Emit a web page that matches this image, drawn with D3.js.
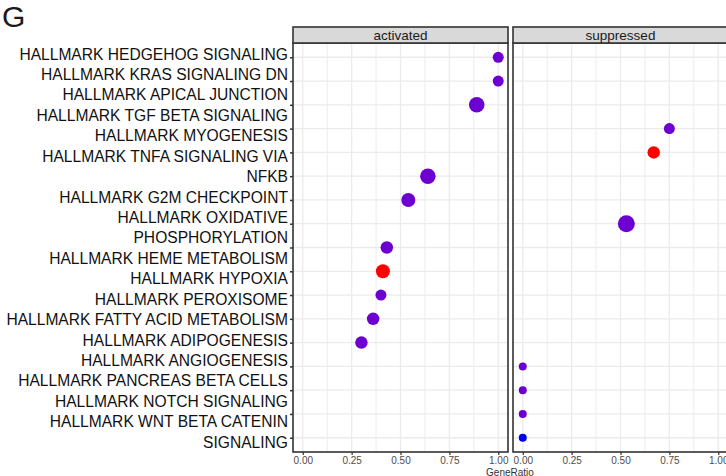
<!DOCTYPE html>
<html>
<head>
<meta charset="utf-8">
<script src="https://cdn.jsdelivr.net/npm/d3@7"></script>
<style>
  html, body { margin: 0; padding: 0; background: #ffffff; }
  svg { display: block; font-family: "Liberation Sans", Arial, sans-serif; }
</style>
</head>
<body>
<div id="chart"></div>
<script>
// ---------------- data ----------------
const categories = [
  "HALLMARK_HEDGEHOG_SIGNALING",
  "HALLMARK_KRAS_SIGNALING_DN",
  "HALLMARK_APICAL_JUNCTION",
  "HALLMARK_TGF_BETA_SIGNALING",
  "HALLMARK_MYOGENESIS",
  "HALLMARK_TNFA_SIGNALING_VIA_NFKB",
  "HALLMARK_G2M_CHECKPOINT",
  "HALLMARK_OXIDATIVE_PHOSPHORYLATION",
  "HALLMARK_HEME_METABOLISM",
  "HALLMARK_HYPOXIA",
  "HALLMARK_PEROXISOME",
  "HALLMARK_FATTY_ACID_METABOLISM",
  "HALLMARK_ADIPOGENESIS",
  "HALLMARK_ANGIOGENESIS",
  "HALLMARK_PANCREAS_BETA_CELLS",
  "HALLMARK_NOTCH_SIGNALING",
  "HALLMARK_WNT_BETA_CATENIN_SIGNALING"
];

// label lines as printed (wrapped) on the left side
const labelLines = [
  "HALLMARK HEDGEHOG SIGNALING",
  "HALLMARK KRAS SIGNALING DN",
  "HALLMARK APICAL JUNCTION",
  "HALLMARK TGF BETA SIGNALING",
  "HALLMARK MYOGENESIS",
  "HALLMARK TNFA SIGNALING VIA",
  "NFKB",
  "HALLMARK G2M CHECKPOINT",
  "HALLMARK OXIDATIVE",
  "PHOSPHORYLATION",
  "HALLMARK HEME METABOLISM",
  "HALLMARK HYPOXIA",
  "HALLMARK PEROXISOME",
  "HALLMARK FATTY ACID METABOLISM",
  "HALLMARK ADIPOGENESIS",
  "HALLMARK ANGIOGENESIS",
  "HALLMARK PANCREAS BETA CELLS",
  "HALLMARK NOTCH SIGNALING",
  "HALLMARK WNT BETA CATENIN",
  "SIGNALING"
];

const panels = ["activated", "suppressed"];
const xTicks = [0, 0.25, 0.5, 0.75, 1];
const xTickLabels = ["0.00", "0.25", "0.50", "0.75", "1.00"];

// activated panel
const activatedTerms = [
  "HALLMARK_HEDGEHOG_SIGNALING", "HALLMARK_KRAS_SIGNALING_DN", "HALLMARK_APICAL_JUNCTION",
  "HALLMARK_TNFA_SIGNALING_VIA_NFKB", "HALLMARK_G2M_CHECKPOINT", "HALLMARK_HEME_METABOLISM",
  "HALLMARK_HYPOXIA", "HALLMARK_PEROXISOME", "HALLMARK_FATTY_ACID_METABOLISM", "HALLMARK_ADIPOGENESIS"
];
const activatedRatio = [1.00, 1.00, 0.89, 0.64, 0.54, 0.43, 0.41, 0.40, 0.36, 0.30];
const activatedCount = [3, 3, 6, 6, 5, 4, 5, 3, 4, 4];
const activatedPadj  = [0.043, 0.043, 0.043, 0.043, 0.043, 0.043, 0.001, 0.043, 0.043, 0.043];

// suppressed panel
const suppressedTerms = [
  "HALLMARK_TGF_BETA_SIGNALING", "HALLMARK_MYOGENESIS", "HALLMARK_OXIDATIVE_PHOSPHORYLATION",
  "HALLMARK_ANGIOGENESIS", "HALLMARK_PANCREAS_BETA_CELLS", "HALLMARK_NOTCH_SIGNALING",
  "HALLMARK_WNT_BETA_CATENIN_SIGNALING"
];
const suppressedRatio = [0.75, 0.67, 0.53, 0.00, 0.00, 0.00, 0.00];
const suppressedCount = [3, 4, 7, 1, 1, 1, 1];
const suppressedPadj  = [0.043, 0.001, 0.043, 0.043, 0.043, 0.043, 0.050];

// ---------------- layout ----------------
const W = 726, H = 476;
const panelTop = 43, panelBottom = 452;
const stripTop = 27;
const panelX = { activated: [293, 508], suppressed: [513, 728] };

const svg = d3.select("#chart").append("svg")
  .attr("width", W).attr("height", H);

const y = d3.scalePoint().domain(categories)
  .range([panelTop, panelBottom]).padding(0.6);

const labelY = d3.scalePoint().domain(d3.range(labelLines.length))
  .range([54.3, 442.5]);

const allPadj = activatedPadj.concat(suppressedPadj);
const allCount = activatedCount.concat(suppressedCount);
const color = d3.scaleLinear().domain(d3.extent(allPadj))
  .range(["#ff0000", "#0000f0"]).interpolate(d3.interpolateLab);
const rScale = d3.scaleLinear().domain(d3.extent(allCount)).range([4, 8.5]);

const panelData = {
  activated: activatedTerms.map((t, i) => ({ term: t, ratio: activatedRatio[i], count: activatedCount[i], padj: activatedPadj[i] })),
  suppressed: suppressedTerms.map((t, i) => ({ term: t, ratio: suppressedRatio[i], count: suppressedCount[i], padj: suppressedPadj[i] }))
};

panels.forEach(p => {
  const [x0, x1] = panelX[p];
  const x = d3.scaleLinear().domain([-0.05, 1.05]).range([x0, x1]);
  const g = svg.append("g");

  g.append("rect").attr("x", x0).attr("y", panelTop)
    .attr("width", x1 - x0).attr("height", panelBottom - panelTop)
    .attr("fill", "#ffffff");

  const minor = [0.125, 0.375, 0.625, 0.875];
  g.selectAll(".minor").data(minor).enter().append("line")
    .attr("x1", d => x(d)).attr("x2", d => x(d))
    .attr("y1", panelTop).attr("y2", panelBottom)
    .attr("stroke", "#ececec").attr("stroke-width", 1);
  g.selectAll(".majx").data(xTicks).enter().append("line")
    .attr("x1", d => x(d)).attr("x2", d => x(d))
    .attr("y1", panelTop).attr("y2", panelBottom)
    .attr("stroke", "#ebebeb").attr("stroke-width", 1.3);
  g.selectAll(".majy").data(categories).enter().append("line")
    .attr("x1", x0).attr("x2", x1)
    .attr("y1", d => y(d)).attr("y2", d => y(d))
    .attr("stroke", "#ebebeb").attr("stroke-width", 1.3);

  g.selectAll("circle").data(panelData[p]).enter().append("circle")
    .attr("cx", d => x(d.ratio)).attr("cy", d => y(d.term))
    .attr("r", d => rScale(d.count))
    .attr("fill", d => color(d.padj));

  g.append("rect").attr("x", x0).attr("y", panelTop)
    .attr("width", x1 - x0).attr("height", panelBottom - panelTop)
    .attr("fill", "none").attr("stroke", "#333333").attr("stroke-width", 1.6);

  g.append("rect").attr("x", x0).attr("y", stripTop)
    .attr("width", x1 - x0).attr("height", panelTop - stripTop)
    .attr("fill", "#d9d9d9").attr("stroke", "#333333").attr("stroke-width", 1.6);
  g.append("text").attr("x", (x0 + x1) / 2).attr("y", (stripTop + panelTop) / 2 + 4.8)
    .attr("text-anchor", "middle").attr("font-size", 13.5).attr("fill", "#1a1a1a")
    .text(p);

  const axis = d3.axisBottom(x).tickValues(xTicks)
    .tickFormat((d, i) => xTickLabels[i]).tickSize(3).tickPadding(2);
  const ax = g.append("g").attr("transform", `translate(0,${panelBottom})`).call(axis);
  ax.select(".domain").remove();
  ax.selectAll(".tick line").attr("stroke", "#333333").attr("stroke-width", 1.2);
  ax.selectAll(".tick text").attr("fill", "#4d4d4d").attr("font-size", 10)
    .attr("font-family", "'Liberation Sans', Arial, sans-serif");
});

const yAxis = d3.axisLeft(y).tickSize(3).tickFormat("");
const yg = svg.append("g").attr("transform", `translate(${panelX.activated[0]},0)`).call(yAxis);
yg.select(".domain").remove();
yg.selectAll(".tick line").attr("stroke", "#333333").attr("stroke-width", 1.5);

svg.append("g").selectAll("text").data(labelLines).enter().append("text")
  .attr("x", 288).attr("y", (d, i) => labelY(i) + 5.2)
  .attr("text-anchor", "end").attr("font-size", 15.6).attr("fill", "#111111")
  .text(d => d);

svg.append("text").attr("x", 510).attr("y", 476)
  .attr("text-anchor", "middle").attr("font-size", 10).attr("fill", "#333333")
  .text("GeneRatio");

svg.append("text").attr("x", 2).attr("y", 27)
  .attr("font-size", 30).attr("fill", "#1a1a1a").text("G");
</script>
</body>
</html>
